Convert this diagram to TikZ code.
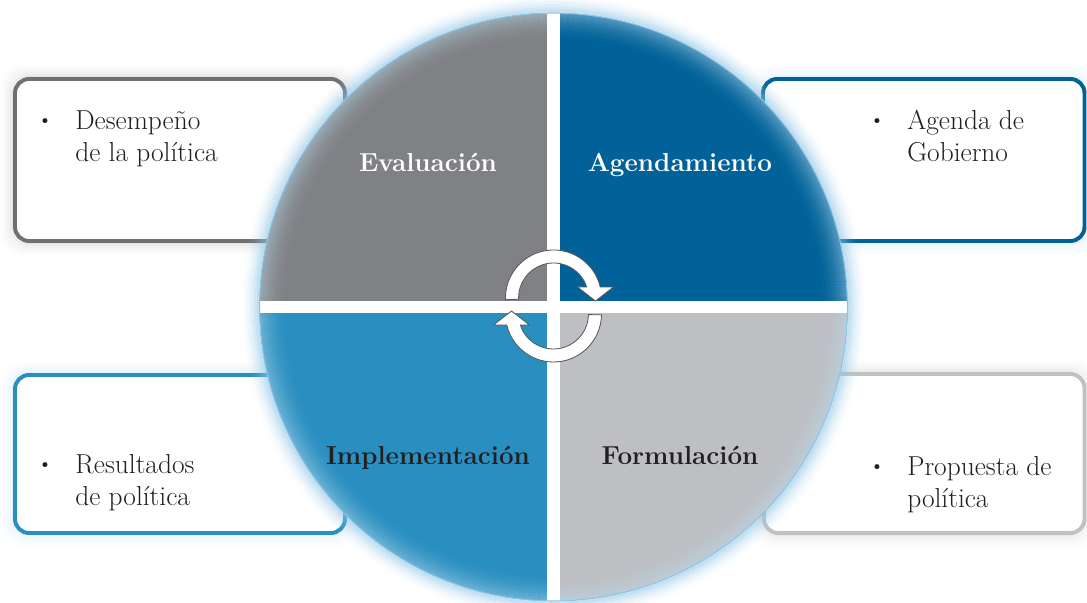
\documentclass[tikz,border=0pt]{standalone}
\usepackage{tikz}
\usetikzlibrary{calc}
\definecolor{evalgray}{RGB}{128,129,132}
\definecolor{agendblue}{RGB}{0,98,152}
\definecolor{implblue}{RGB}{41,143,192}
\definecolor{formgray}{RGB}{190,191,195}
\definecolor{rimgray}{RGB}{112,113,116}
\definecolor{rimlight}{RGB}{192,193,196}
\definecolor{haloblue}{RGB}{140,196,230}
\definecolor{inkdark}{RGB}{35,31,32}
\tikzset{
  bodytext/.style={anchor=base west, align=left, inner sep=0pt, text=inkdark,
    font=\fontsize{19.5}{23.4}\selectfont},
  bullettext/.style={anchor=base, inner sep=0pt, text=inkdark, font=\fontsize{13}{13}\selectfont},
  phaselabel/.style={anchor=base, inner sep=0pt, font=\bfseries\fontsize{18.5}{20}\selectfont},
  cyclearrow/.style={fill=white, draw=black!65, line width=0.6pt, line join=round}
}
\newcommand{\panel}[6]{
  \foreach \g in {1,...,9}{
    \pgfmathsetmacro{\op}{0.22*(1-\g/10)^2}
    \draw[#6, line width=1.5pt, opacity=\op, rounded corners=12pt]
      ({#1-\g*1.8},{#2-\g*1.8}) rectangle ({#3+\g*1.8},{#4+\g*1.8});
  }
  \draw[fill=white, draw=#5, line width=2.8pt, rounded corners=10pt] (#1,#2) rectangle (#3,#4);
}

\begin{document}
\begin{tikzpicture}[x=0.025cm, y=0.025cm]
    \useasboundingbox (-553.5,-296) rectangle (533.5,307);
    % boxes
    \panel{-538.5}{66}{-208.5}{228}{rimgray}{black!50}
    \panel{209.5}{66}{531}{228}{agendblue}{haloblue}
    \panel{-538.5}{-226}{-208.5}{-68}{implblue}{haloblue}
    \panel{210.5}{-226}{531}{-67}{rimlight}{black!40}
    % halo of the circle
    \foreach \g in {1,...,12}{
        \pgfmathsetmacro{\op}{0.6*(1-\g/13)^2}
        \draw[haloblue, line width=1.3pt, opacity=\op] (0,0) circle ({294+\g*1.6});
    }
    % quadrants
    \fill[evalgray] (0,0) -- (90:294) arc[start angle=90, end angle=180, radius=294] -- cycle;
    \fill[agendblue] (0,0) -- (0:294) arc[start angle=0, end angle=90, radius=294] -- cycle;
    \fill[implblue] (0,0) -- (180:294) arc[start angle=180, end angle=270, radius=294] -- cycle;
    \fill[formgray] (0,0) -- (270:294) arc[start angle=270, end angle=360, radius=294] -- cycle;
    % glow inside the rim and the cross
    \begin{scope}
        \clip (0,0) circle (294);
        \foreach \g in {0,...,14}{
            \pgfmathsetmacro{\op}{0.45*(1-\g/15)^2}
            \draw[white!40!haloblue, line width=1.5pt, opacity=\op] (0,0) circle ({294-\g*2});
        }
        \fill[white] (-6.5,-294) rectangle (6.5,294);
        \fill[white] (-294,-6.25) rectangle (294,6.25);
    \end{scope}
    \draw[haloblue, line width=0.8pt] (0,0) circle (294);
    % phase labels
    \node[phaselabel, text=white] (evalab) at (-125.5,135) {Evaluación};
    \node[phaselabel, text=white] (agelab) at (126.5,135) {Agendamiento};
    \node[phaselabel, text=inkdark] (implab) at (-125.5,-158) {Implementación};
    \node[phaselabel, text=inkdark] (formlab) at (126.5,-158) {Formulación};
    % box texts
    \node[bullettext] (desbul) at (-508.5,181) {\textbullet};
    \node[bodytext] (destxt) at (-478.5,145) {Desempeño\\de la política};
    \node[bullettext] (agebul) at (323.5,181) {\textbullet};
    \node[bodytext] (agetxt) at (353.5,145) {Agenda de\\Gobierno};
    \node[bullettext] (resbul) at (-508.5,-163) {\textbullet};
    \node[bodytext] (restxt) at (-478.5,-199) {Resultados\\de política};
    \node[bullettext] (probul) at (323.5,-165) {\textbullet};
    \node[bodytext] (protxt) at (353.5,-201) {Propuesta de\\política};
    % cycle arrows
    \begin{scope}[shift={(0,9)}]
        \draw[cyclearrow] (182:48) arc[start angle=182, end angle=13.2, radius=48]
            -- (60,11) -- (42,-3) -- (24,11) -- (18.3:35)
            arc[start angle=18.3, end angle=182, radius=35] -- cycle;
    \end{scope}
    \begin{scope}[shift={(0,-7)}]
        \draw[cyclearrow] (-1:48) arc[start angle=-1, end angle=-166.8, radius=48]
            -- (-60,-11) -- (-42,3) -- (-24,-11) -- (-161.7:35)
            arc[start angle=-161.7, end angle=-1, radius=35] -- cycle;
    \end{scope}
\end{tikzpicture}
\end{document}
